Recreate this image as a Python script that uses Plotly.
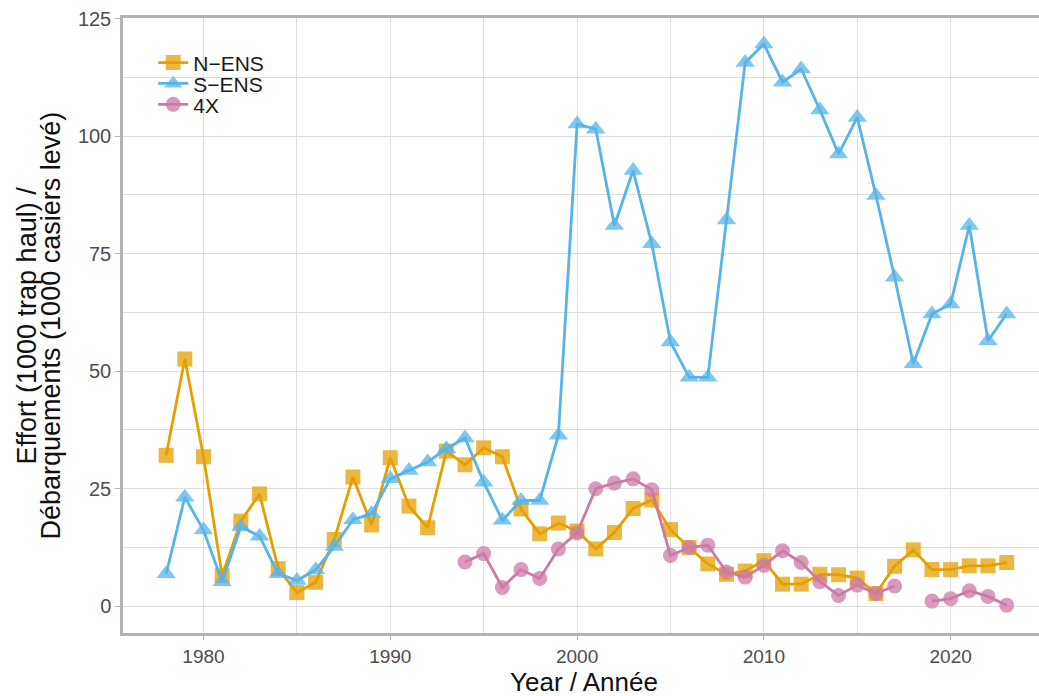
import plotly.graph_objects as go

# Fishing effort by area, 1978-2023
years = list(range(1978, 2024))

n_ens = [32.1, 52.6, 31.8, 6.5, 18.1, 23.9, 8.0, 2.9, 5.1, 14.2,
         27.5, 17.3, 31.6, 21.3, 16.7, 33.0, 30.1, 33.7, 31.8, 20.7,
         15.4, 17.7, 16.0, 12.2, 15.7, 20.8, 22.6, 16.3, 12.5, 9.0,
         6.8, 7.5, 9.7, 4.7, 4.7, 6.8, 6.7, 6.0, 2.7, 8.5,
         12.0, 7.8, 7.8, 8.6, 8.6, 9.3]

s_ens = [6.9, 23.2, 16.2, 5.2, 16.9, 14.9, 6.9, 5.5, 7.7, 12.7,
         18.4, 19.7, 27.1, 28.9, 30.7, 33.5, 35.8, 26.4, 18.3, 22.5,
         22.5, 36.4, 102.6, 101.5, 81.0, 92.7, 77.1, 56.2, 48.7, 48.7,
         82.2, 115.7, 119.6, 111.5, 114.3, 105.6, 96.2, 104.0, 87.4, 70.0,
         51.6, 62.2, 64.3, 81.0, 56.5, 62.2]

area_4x = [None] * 16 + [
    9.4, 11.2, 4.0, 7.8, 5.9, 12.2, 15.6, 25.0, 26.2, 27.1,
    24.8, 10.8, 12.5, 13.0, 7.3, 6.2, 8.7, 11.8, 9.3, 5.2,
    2.3, 4.5, 2.7, 4.3, None, 1.1, 1.6, 3.3, 2.1, 0.2]

x_ticks = [1980, 1990, 2000, 2010, 2020]
y_ticks = [0, 25, 50, 75, 100, 125]

series = [
    ("N\u2212ENS", n_ens, "#E69F00", "square", 15),
    ("S\u2212ENS", s_ens, "#56B4E9", "triangle-up", 17),
    ("4X", area_4x, "#CC79A7", "circle", 15),
]

FONT = "Liberation Sans, Arial, sans-serif"
TITLE_COLOR = "#111111"
LEGEND_FONT = dict(family=FONT, size=21, color="#1A1A1A")

fig = go.Figure()
# each series gets its own legend box so the entries can sit closely stacked
legend_ids = ["legend", "legend2", "legend3"]
legend_y = [0.927, 0.893, 0.859]
for (name, vals, color, symbol, size), lid in zip(series, legend_ids):
    fig.add_trace(go.Scatter(
        x=years, y=vals, name=name, mode="lines+markers",
        connectgaps=False, legend=lid,
        line=dict(color=color, width=2.8),
        marker=dict(symbol=symbol, size=size, color=color, opacity=0.75,
                    line=dict(width=0)),
    ))

legend_common = dict(x=0.033, xanchor="left", yanchor="middle",
                     font=LEGEND_FONT, bgcolor="rgba(0,0,0,0)",
                     itemwidth=30)
legends = {lid: dict(y=ly, **legend_common) for lid, ly in zip(legend_ids, legend_y)}

grid = "#DEDEDE"
axis_line = "#B3B3B3"

# y-axis title, one annotation per line
y_title_lines = ["Effort (1000 trap haul) /", "D\u00e9barquements (1000 casiers lev\u00e9)"]
for line_text, shift in zip(y_title_lines, [-97, -73]):
    fig.add_annotation(
        text=line_text, xref="paper", yref="paper", x=0, y=0.5,
        xshift=shift, xanchor="center", yanchor="middle",
        textangle=-90, showarrow=False,
        font=dict(family=FONT, size=27, color=TITLE_COLOR),
    )

# x-axis title
fig.add_annotation(
    text="Year / Ann\u00e9e", xref="paper", yref="paper", x=0.503, y=0,
    yshift=-66, xanchor="center", yanchor="bottom", showarrow=False,
    font=dict(family=FONT, size=26, color=TITLE_COLOR),
)

fig.update_layout(
    width=1039, height=696,
    margin=dict(l=123, r=0, t=18, b=63),
    paper_bgcolor="white", plot_bgcolor="white",
    font=dict(family=FONT, size=20, color="#4D4D4D"),
    showlegend=True,
    **legends,
    xaxis=dict(
        range=[1975.69, 2024.73],
        tickmode="array", tickvals=x_ticks,
        ticks="outside", ticklen=4, tickcolor=axis_line, tickwidth=1,
        tickfont=dict(size=19, color="#4D4D4D"),
        showgrid=True, gridcolor=grid, gridwidth=1,
        minor=dict(tickvals=[1985, 1995, 2005, 2015],
                   showgrid=True, gridcolor=grid, gridwidth=1, ticks=""),
        showline=True, linecolor=axis_line, linewidth=2.5, mirror=True,
        zeroline=False,
    ),
    yaxis=dict(
        range=[-5.69, 125.15],
        tickmode="array", tickvals=y_ticks,
        ticks="outside", ticklen=5, tickcolor=axis_line, tickwidth=1,
        tickfont=dict(size=20, color="#4D4D4D"),
        showgrid=True, gridcolor=grid, gridwidth=1,
        minor=dict(tickvals=[12.5, 37.5, 62.5, 87.5, 112.5],
                   showgrid=True, gridcolor=grid, gridwidth=1, ticks=""),
        showline=True, linecolor=axis_line, linewidth=2.5, mirror=False,
        zeroline=False,
    ),
)

fig.write_html("out.html")
